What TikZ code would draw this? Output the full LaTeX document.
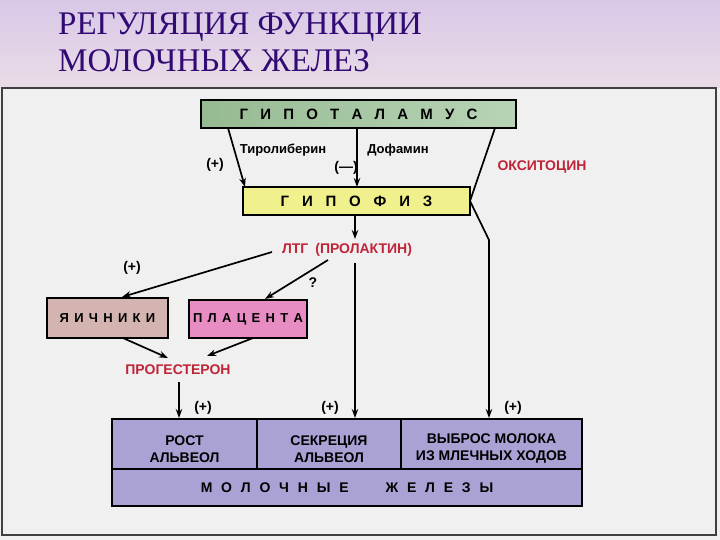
\documentclass[tikz,border=0pt]{standalone}
\usepackage{fontspec}
\newfontfamily\hv{Liberation Sans}
\newfontfamily\tm{Liberation Serif}
\usetikzlibrary{arrows.meta}
\definecolor{bgtop}{RGB}{216,200,232}
\definecolor{bgbot}{RGB}{234,220,230}
\definecolor{panelc}{RGB}{240,240,240}
\definecolor{hypothL}{RGB}{150,186,146}
\definecolor{hypothR}{RGB}{184,212,182}
\definecolor{hypoph}{RGB}{240,240,140}
\definecolor{ovar}{RGB}{212,180,176}
\definecolor{plac}{RGB}{232,140,196}
\definecolor{gland}{RGB}{170,162,212}
\definecolor{redtxt}{RGB}{192,36,56}
\definecolor{titlec}{RGB}{50,10,115}
\newcommand\lsp[2]{{\spaceskip=#1\relax #2}}
\newcommand\fs[1]{\fontsize{#1}{#1}\selectfont}
\begin{document}
\begin{tikzpicture}[x=1pt,y=-1pt,
  box/.style={draw=black, line width=1.3pt, inner sep=0pt, font=\hv\bfseries\fs{15}},
  lbl/.style={inner sep=0pt, font=\hv\bfseries\fs{13}},
  redlbl/.style={inner sep=0pt, font=\hv\bfseries\fs{14}, text=redtxt},
  plus/.style={inner sep=0pt, font=\hv\bfseries\fs{14}},
  celltext/.style={inner sep=0pt, align=center, font=\hv\bfseries\fs{14}},
  ln/.style={line width=1.7pt, line join=round},
  arr/.style={ln, -{Stealth[length=9pt,width=6.5pt]}},
  titlestyle/.style={inner sep=0pt, anchor=base west, text=titlec, font=\tm\fs{33}}]
\useasboundingbox (0,0) rectangle (720,540);
% background
\fill[panelc] (0,0) rectangle (720,540);
\shade[top color=bgtop, bottom color=bgbot] (0,0) rectangle (720,88);
% title
\node[titlestyle] (t1) at (58,35) {РЕГУЛЯЦИЯ ФУНКЦИИ};
\node[titlestyle] (t2) at (58,72) {МОЛОЧНЫХ ЖЕЛЕЗ};
% panel
\draw[line width=1.4pt, draw=black!75, fill=panelc] (2,88) rectangle (716,535);
% boxes
\node[box, left color=hypothL, right color=hypothR, minimum width=315pt, minimum height=28pt] (hyp) at (358.5,114) {\lsp{12.2pt}{Г И П О Т А Л А М У С}};
\node[box, fill=hypoph, minimum width=227pt, minimum height=28pt] (pit) at (356.5,201) {\lsp{12.8pt}{Г И П О Ф И З}};
\node[box, fill=ovar, minimum width=121pt, minimum height=40pt, font=\hv\bfseries\fs{13}] (ova) at (107.5,318) {\lsp{5.3pt}{Я И Ч Н И К И}};
\node[box, fill=plac, minimum width=118pt, minimum height=38pt, font=\hv\bfseries\fs{13}] (pla) at (248,319) {\lsp{5.3pt}{П Л А Ц Е Н Т А}};
% gland table
\node[box, fill=gland, minimum width=145pt, minimum height=50pt] (c1) at (184.5,444) {};
\node[box, fill=gland, minimum width=144pt, minimum height=50pt] (c2) at (329,444) {};
\node[box, fill=gland, minimum width=181pt, minimum height=50pt] (c3) at (491.5,444) {};
\node[box, fill=gland, minimum width=470pt, minimum height=37pt, font=\hv\bfseries\fs{14}] (gl) at (347,487.5) {\lsp{8.8pt}{М О Л О Ч Н Ы Е}\hspace{37pt}\lsp{8.8pt}{Ж Е Л Е З Ы}};
\node[celltext] (x1) at (184.5,449) {РОСТ\\[3pt]АЛЬВЕОЛ};
\node[celltext] (x2) at (329,449) {СЕКРЕЦИЯ\\[3pt]АЛЬВЕОЛ};
\node[celltext] (x3) at (491.5,449) {ВЫБРОС МОЛОКА\\[3pt]ИЗ МЛЕЧНЫХ ХОДОВ};
% labels
\node[lbl] (tyr) at (283,150) {Тиролиберин};
\node[lbl] (dop) at (398,150) {Дофамин};
\node[plus] (p1) at (215,165) {(+)};
\node[plus] (m1) at (346,168) {(—)};
\node[redlbl] (oxy) at (542,167) {ОКСИТОЦИН};
\node[redlbl] (ltg) at (347,250) {ЛТГ\hspace{7pt}(ПРОЛАКТИН)};
\node[plus] (p2) at (132,268) {(+)};
\node[plus] (q) at (313,283) {?};
\node[redlbl] (prog) at (178,370) {ПРОГЕСТЕРОН};
\node[plus] (p3) at (203,408) {(+)};
\node[plus] (p4) at (330,408) {(+)};
\node[plus] (p5) at (513,408) {(+)};
% helper coordinates
\coordinate (tyrA) at (228,128);
\coordinate (tyrB) at (245,187);
\coordinate (dopA) at (357,128);
\coordinate (dopB) at (357,187);
\coordinate (oxA) at (495,128);
\coordinate (oxB) at (470,201);
\coordinate (oxC) at (489,240);
\coordinate (oxD) at (489,418);
\coordinate (ltgA) at (355,215);
\coordinate (ltgB) at (355,239);
\coordinate (secA) at (355,263);
\coordinate (secB) at (355,418);
\coordinate (ovA) at (272,252);
\coordinate (ovB) at (122,297);
\coordinate (plA) at (328,260);
\coordinate (plB) at (265,299);
\coordinate (pgA) at (123,338);
\coordinate (pgB) at (168,358);
\coordinate (pgC) at (253,338);
\coordinate (pgD) at (207,356);
\coordinate (prA) at (179,382);
\coordinate (prB) at (179,418);
% connectors
\draw[arr] (tyrA) -- (tyrB);
\draw[arr] (dopA) -- (dopB);
\draw[arr] (oxA) -- (oxB) -- (oxC) -- (oxD);
\draw[arr] (ltgA) -- (ltgB);
\draw[arr] (secA) -- (secB);
\draw[arr] (ovA) -- (ovB);
\draw[arr] (plA) -- (plB);
\draw[arr] (pgA) -- (pgB);
\draw[arr] (pgC) -- (pgD);
\draw[arr] (prA) -- (prB);
\end{tikzpicture}
\end{document}
